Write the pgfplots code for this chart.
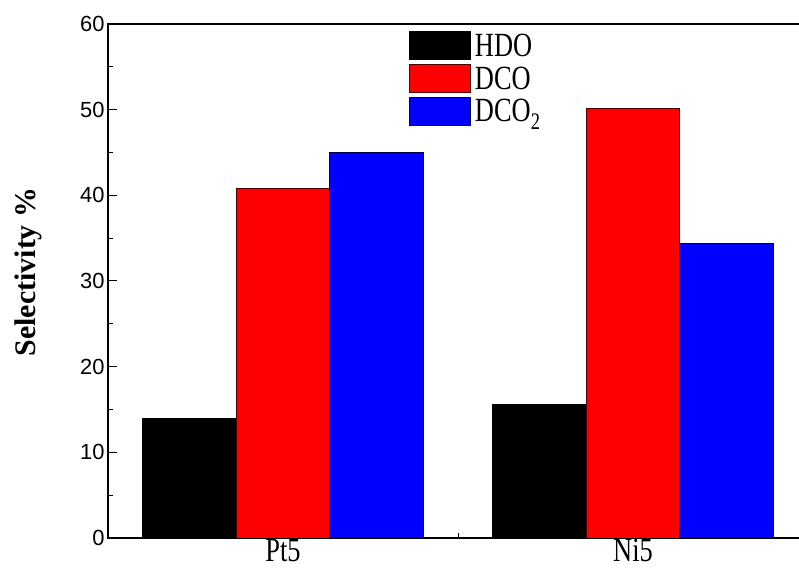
\documentclass[border=0pt]{standalone}
\usepackage{fontspec}
\setmainfont{Liberation Serif}
\newfontfamily\arialf{Liberation Sans}
\newfontfamily\condf[FakeStretch=0.78]{Liberation Serif}
\usepackage{pgfplots}
\pgfplotsset{compat=1.18}
\pgfplotsset{boxlegend/.style={legend image code/.code={\draw[##1, line width=0.8bp] (0bp,-14bp) rectangle (61bp,14bp);}}}
\begin{document}
\begin{tikzpicture}
\begin{axis}[
 scale only axis, width=700bp, height=514bp,
 xmin=0.5, xmax=2.5, ymin=0, ymax=60,
 ybar=0pt, bar width=93.5bp,
 xtick={1,2}, xticklabels={Pt5,Ni5}, minor xtick={1.5},
 ytick={0,10,...,60}, minor ytick={5,15,...,55},
 tick align=inside, xtick pos=bottom, ytick pos=left,
 major tick length=9bp, minor tick length=5bp,
 axis line style={line width=1.5bp},
 tick style={line width=1bp, black},
 /pgf/number format/assume math mode=true,
 yticklabel style={font=\arialf\fontsize{22}{22}\selectfont},
 xticklabel style={font=\condf\fontsize{34}{34}\selectfont, yshift=2bp},
 ylabel={\bfseries Selectivity \%},
 ylabel style={font=\fontsize{30}{30}\selectfont, at={([xshift=-80bp,yshift=9bp]axis description cs:0,0.5)}, anchor=center},
 legend style={at={(axis description cs:0.43,0.986)}, anchor=north west, draw=none, fill=none,
   font=\condf\fontsize{34}{34}\selectfont, row sep=4bp, inner sep=0pt, nodes={inner sep=1bp}, column sep=3bp},
 legend cell align=left,
]
\addplot[fill=black, draw=black, line width=0.8bp, boxlegend] coordinates {(1,14.0) (2,15.6)};
\addplot[fill=red, draw=black!70!red, line width=0.8bp, boxlegend] coordinates {(1,40.8) (2,50.1)};
\addplot[fill=blue, draw=black!70!blue, line width=0.8bp, boxlegend] coordinates {(1,45.0) (2,34.4)};
\legend{HDO, DCO, DCO\textsubscript{2}}
\coordinate (sw) at (rel axis cs:0,0);
\coordinate (ne) at (rel axis cs:1,1);
\end{axis}
\pgfresetboundingbox
\path[use as bounding box] ([xshift=-108bp,yshift=-37bp]sw) rectangle ([xshift=-9bp,yshift=24bp]ne);
\end{tikzpicture}
\end{document}
